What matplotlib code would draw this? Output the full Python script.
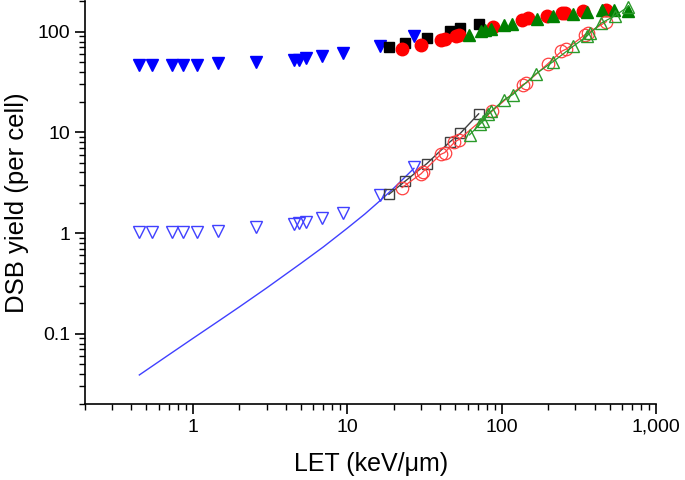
import matplotlib
matplotlib.use("Agg")
import matplotlib.pyplot as plt
from matplotlib.ticker import LogLocator, FuncFormatter, NullFormatter

plt.rcParams['font.family'] = ['Liberation Sans', 'DejaVu Sans']

# blue triangles (filled: upper set, open: lower set), same LET values
blue_let = [0.45, 0.54, 0.73, 0.86, 1.06, 1.46, 2.57, 4.5, 4.85, 5.42, 6.84, 9.35, 16.2, 27]
blue_full = [47, 47, 47, 47, 47, 49, 50, 52.8, 53, 54.6, 57, 61.5, 72.6, 91]
blue_open = [1.03, 1.03, 1.03, 1.03, 1.03, 1.05, 1.14, 1.23, 1.25, 1.28, 1.40, 1.60, 2.38, 4.5]

# blue model curve
curve_let = [0.45, 0.7, 1, 1.5, 2, 3, 5, 7, 10, 13, 16, 20, 27]
curve_y = [0.039, 0.062, 0.09, 0.137, 0.185, 0.285, 0.50, 0.73, 1.12, 1.55, 2.05, 2.8, 4.4]

# black squares
sq_let = [18.6, 23.8, 32.7, 45.9, 53.9, 70.8]
sq_full = [70, 77, 87, 101, 109, 120]
sq_open = [2.43, 3.3, 4.9, 8.0, 9.8, 15.3]

# red circles
red_let_full = [22.6, 30.1, 40.2, 42.7, 50.3, 52.6, 87.3, 135, 147, 195, 244, 256, 335, 471]
red_full = [67.4, 74.3, 83.3, 84.7, 89.8, 93.4, 111, 130, 136, 143, 152, 154, 159, 165]
red_let_open = [22.6, 30.1, 30.8, 40.2, 42.7, 49.4, 52.7, 86.7, 137, 144, 199, 243, 262, 345, 360, 476]
red_open = [2.83, 3.9, 4.05, 6.05, 6.3, 8.0, 8.5, 16.3, 29.9, 31, 48.2, 63.8, 67.4, 93.4, 97, 126]

# green triangles
grn_let_full = [61.5, 73.8, 77.5, 84.7, 103, 117, 168, 215, 288, 355, 444, 531, 658]
grn_full = [93.4, 101, 105, 107, 117, 120, 135, 144, 151, 157, 163, 165, 159]
grn_let_open = [61.8, 72, 75.5, 81.5, 85.5, 104, 118, 167, 215, 289, 354, 372, 441, 540, 660]
grn_open = [9.45, 12, 12.9, 15.1, 16.3, 21.2, 23.8, 38.4, 50.5, 71.5, 89.8, 97, 122, 144, 178]

fig = plt.figure(figsize=(6.85, 4.8), dpi=100)
ax = fig.add_axes([0.124, 0.158, 0.834, 0.839])

ax.plot(blue_let, blue_full, 'v', color='#0000ff', ms=9, ls='none')
ax.plot(sq_let, sq_full, 's', color='black', ms=7, ls='none')
ax.plot(red_let_full, red_full, 'o', color='#ff0000', ms=9, ls='none')
ax.plot(grn_let_full, grn_full, '^', color='#008000', ms=9, ls='none')

ax.plot(curve_let, curve_y, '-', color='#4040ff', lw=1)
ax.plot(blue_let, blue_open, 'v', mfc='none', mec='#4040ff', ms=9, mew=1, ls='none')
ax.plot(sq_let, sq_open, 's-', color='#404040', mfc='none', ms=7, mew=1, lw=1)
ax.plot(red_let_open, red_open, 'o-', color='#ff4040', mfc='none', ms=9, mew=0.9, lw=0.9)
ax.plot(grn_let_open, grn_open, '^-', color='#2a9a2a', mfc='none', ms=9, mew=1, lw=0.9)

ax.set_xscale('log')
ax.set_yscale('log')
ax.set_xlim(0.2, 1000)
ax.set_ylim(0.02, 200)

for s in ['top', 'right']:
    ax.spines[s].set_visible(False)
for s in ['left', 'bottom']:
    ax.spines[s].set_linewidth(1.2)

ax.xaxis.set_major_locator(LogLocator(base=10, numticks=10))
ax.xaxis.set_minor_locator(LogLocator(base=10, subs=range(2, 10), numticks=10))
ax.yaxis.set_major_locator(LogLocator(base=10, numticks=10))
ax.yaxis.set_minor_locator(LogLocator(base=10, subs=range(2, 10), numticks=10))
ax.xaxis.set_major_formatter(FuncFormatter(lambda v, p: f"{v:,.0f}" if v >= 1 else f"{v:g}"))
ax.yaxis.set_major_formatter(FuncFormatter(lambda v, p: f"{v:g}"))
ax.xaxis.set_minor_formatter(NullFormatter())
ax.yaxis.set_minor_formatter(NullFormatter())
ax.tick_params(which='major', direction='out', length=7, width=1.2, labelsize=14)
ax.tick_params(which='minor', direction='out', length=4, width=1.0)

ax.set_xlabel('LET (keV/μm)', fontsize=18, labelpad=12)
ax.set_ylabel('DSB yield (per cell)', fontsize=18.5, labelpad=6)

fig.savefig('out.png', dpi=100)
